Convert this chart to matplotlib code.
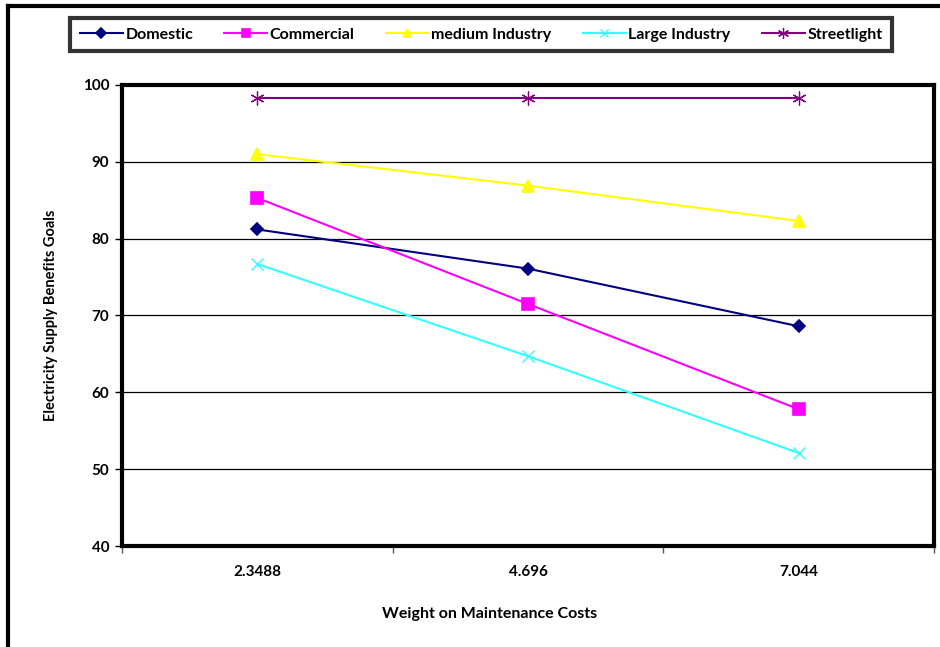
import matplotlib.pyplot as plt
from matplotlib.lines import Line2D

plt.rcParams["font.family"] = ["Lato", "DejaVu Sans"]
plt.rcParams["font.weight"] = "bold"

# x 카테고리 (유지보수 비용 가중치)
weights = ["2.3488", "4.696", "7.044"]

domestic = [81.2, 76.1, 68.6]
commercial = [85.3, 71.5, 57.8]
medium_industry = [91.0, 86.9, 82.3]
large_industry = [76.7, 64.7, 52.1]
streetlight = [98.3, 98.3, 98.3]

series = [
    ("Domestic", domestic, "#000080", "D", 6, 1.2),
    ("Commercial", commercial, "#FF00FF", "s", 8, 1.2),
    ("medium Industry", medium_industry, "#FFFF00", "^", 8, 1.2),
    ("Large Industry", large_industry, "#33FFFF", "x", 8, 1.0),
    ("Streetlight", streetlight, "#800080", (6, 2, 0), 10, 0.9),
]

fig = plt.figure(figsize=(9.4, 6.47), dpi=100)
ax = fig.add_axes([122 / 940, 101 / 647, 812 / 940, 461 / 647])

xs = list(range(len(weights)))
for name, vals, color, marker, ms, mew in series:
    ax.plot(xs, vals, color=color, linewidth=1.5, marker=marker, markersize=ms,
            markerfacecolor=color, markeredgecolor=color, markeredgewidth=mew,
            label=name, zorder=3)

ax.set_xlim(-0.5, 2.5)
ax.set_ylim(40, 100)
ax.set_yticks(range(40, 101, 10))
ax.yaxis.grid(True, color="black", linewidth=0.9)
ax.set_axisbelow(True)

ax.set_xticks(xs)
ax.set_xticklabels(weights)
ax.set_xticks([-0.5, 0.5, 1.5, 2.5], minor=True)
ax.tick_params(axis="x", which="major", length=0, pad=14, labelsize=11)
ax.tick_params(axis="x", which="minor", length=5, width=1, color="#555555", direction="out")
ax.tick_params(axis="y", length=5, width=1, labelsize=11, pad=4)

for sp in ax.spines.values():
    sp.set_linewidth(3)
    sp.set_color("black")

ax.set_xlabel("Weight on Maintenance Costs", fontsize=11.5, fontweight="bold")
ax.xaxis.set_label_coords(0.453, -0.132)
ax.set_ylabel("Electricity Supply Benefits Goals", fontsize=10.5, fontweight="bold", labelpad=18)

# 차트 영역 바깥 테두리 (왼쪽/위쪽)
fig.add_artist(Line2D([8 / 940, 8 / 940], [0, 1 - 6 / 647], transform=fig.transFigure,
                      color="black", linewidth=3))
fig.add_artist(Line2D([8 / 940, 1], [1 - 6 / 647, 1 - 6 / 647], transform=fig.transFigure,
                      color="black", linewidth=3))

leg = fig.legend(loc="center", bbox_to_anchor=(481 / 940, 1 - 34.5 / 647), ncol=5,
                 fontsize=11.5, frameon=True, fancybox=False, edgecolor="black",
                 handlelength=2.7, handletextpad=0.15, columnspacing=1.95,
                 borderpad=0.6, borderaxespad=0, markerscale=0.8)
leg.get_frame().set_linewidth(3)

fig.savefig("out.png", dpi=100)
